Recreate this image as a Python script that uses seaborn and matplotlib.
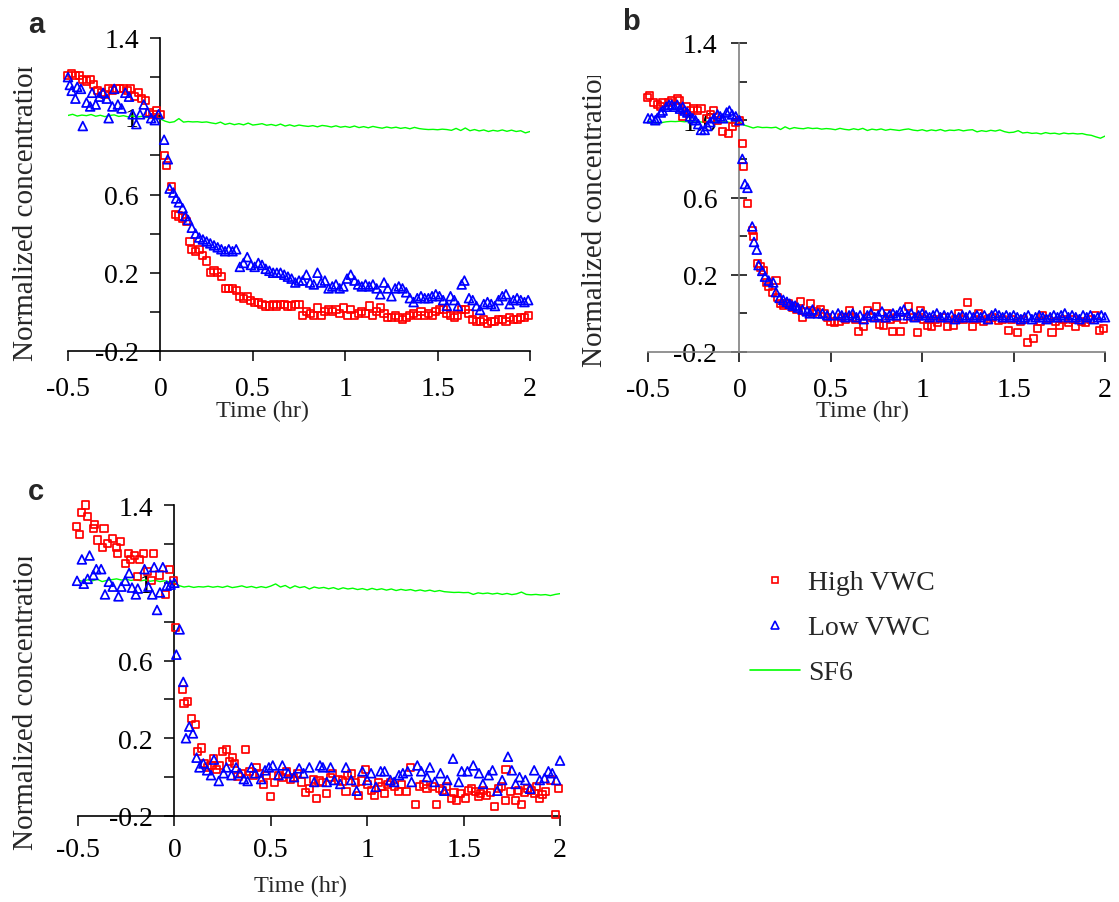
import matplotlib
matplotlib.use("Agg")
import matplotlib.pyplot as plt
import seaborn as sns
from matplotlib.lines import Line2D
from matplotlib.transforms import Bbox, TransformedBbox

# ---------------------------------------------------------------- data
X_TICKS = [-0.5, 0, 0.5, 1, 1.5, 2]
X_TICK_LABELS = ["-0.5", "0", "0.5", "1", "1.5", "2"]
Y_MAJOR = [-0.2, 0.2, 0.6, 1.0, 1.4]
Y_MINOR = [0.0, 0.4, 0.8, 1.2]
Y_LABELS_A = ["-0.2", "0.2", "0.6", "1", "1.4"]
Y_LABELS_B = ["-0.2", "0.2", "0.6", "1.0", "1.4"]
Y_LABELS_C = ["-0.2", "0.2", "0.6", "1", "1.4"]
SERIES = ["High VWC", "Low VWC", "SF6"]
PANEL_LETTERS = ["a", "b", "c"]
X_LABEL = "Time (hr)"
Y_LABEL = "Normalized concentration"

# SF6 sampling times (shared by the three panels)
sf6_t = [-0.500, -0.475, -0.450, -0.425, -0.400, -0.375, -0.350, -0.325, -0.300, -0.275,
         -0.250, -0.225, -0.200, -0.175, -0.150, -0.125, -0.100, -0.075, -0.050, -0.025,
         0.000, 0.025, 0.050, 0.075, 0.100, 0.125, 0.150, 0.175, 0.200, 0.225,
         0.250, 0.275, 0.300, 0.325, 0.350, 0.375, 0.400, 0.425, 0.450, 0.475,
         0.500, 0.525, 0.550, 0.575, 0.600, 0.625, 0.650, 0.675, 0.700, 0.725,
         0.750, 0.775, 0.800, 0.825, 0.850, 0.875, 0.900, 0.925, 0.950, 0.975,
         1.000, 1.025, 1.050, 1.075, 1.100, 1.125, 1.150, 1.175, 1.200, 1.225,
         1.250, 1.275, 1.300, 1.325, 1.350, 1.375, 1.400, 1.425, 1.450, 1.475,
         1.500, 1.525, 1.550, 1.575, 1.600, 1.625, 1.650, 1.675, 1.700, 1.725,
         1.750, 1.775, 1.800, 1.825, 1.850, 1.875, 1.900, 1.925, 1.950, 1.975, 2.000]

# ---- panel a
a_high_t = [-0.50, -0.48, -0.46, -0.44, -0.42, -0.40, -0.38, -0.36, -0.34, -0.32, -0.30, -0.28,
            -0.26, -0.24, -0.22, -0.20, -0.18, -0.16, -0.14, -0.12, -0.10, -0.08, -0.06, -0.04,
            -0.02, 0.00,
            0.02, 0.035, 0.06, 0.08, 0.10, 0.12, 0.14, 0.16, 0.17, 0.19, 0.21, 0.23, 0.25, 0.27,
            0.29, 0.31, 0.33, 0.35, 0.37, 0.39, 0.41, 0.43, 0.45, 0.47, 0.49, 0.51, 0.53, 0.55,
            0.57, 0.59, 0.61, 0.63, 0.65, 0.67, 0.69, 0.71, 0.73, 0.75, 0.77, 0.79, 0.81, 0.83,
            0.85, 0.87, 0.89, 0.91, 0.93, 0.95, 0.97, 0.99, 1.01, 1.03, 1.05, 1.07, 1.09, 1.11,
            1.13, 1.15, 1.17, 1.19, 1.21, 1.23, 1.25, 1.27, 1.29, 1.31, 1.33, 1.35, 1.37, 1.39,
            1.41, 1.43, 1.45, 1.47, 1.49, 1.51, 1.53, 1.55, 1.57, 1.59, 1.61, 1.63, 1.65, 1.67,
            1.69, 1.71, 1.73, 1.75, 1.77, 1.79, 1.81, 1.83, 1.85, 1.87, 1.89, 1.91, 1.93, 1.95,
            1.97, 1.99]
a_high_v = [1.21, 1.22, 1.21, 1.21, 1.19, 1.18, 1.19, 1.16, 1.13, 1.12, 1.11, 1.14,
            1.13, 1.14, 1.14, 1.14, 1.13, 1.14, 1.10, 1.12, 1.09, 1.08, 1.02, 1.01,
            1.03, 1.01,
            0.80, 0.75, 0.64, 0.50, 0.49, 0.48, 0.46, 0.36, 0.32, 0.31, 0.32, 0.29, 0.26, 0.20,
            0.21, 0.20, 0.18, 0.12, 0.12, 0.12, 0.11, 0.08, 0.07, 0.08, 0.06, 0.05, 0.05, 0.04,
            0.03, 0.03, 0.04, 0.03, 0.04, 0.04, 0.03, 0.03, 0.04, 0.04, -0.02, 0.00, -0.01, -0.02,
            0.02, -0.02, 0.00, 0.01, 0.00, 0.01, -0.01, 0.02, -0.02, 0.01, -0.02, -0.01, 0.00, -0.01,
            0.03, -0.02, 0.00, 0.02, -0.01, -0.03, -0.03, -0.02, -0.03, -0.04, -0.03, -0.02, -0.01, -0.02,
            0.00, -0.02, -0.01, -0.02, 0.00, 0.01, 0.01, -0.01, -0.02, -0.03, -0.02, 0.01, 0.01, -0.01,
            -0.04, -0.05, -0.05, -0.04, -0.06, -0.05, -0.05, -0.04, -0.04, -0.05, -0.03, -0.04, -0.04, -0.03,
            -0.03, -0.02]
a_low_t = [-0.50, -0.49, -0.48, -0.46, -0.45, -0.43, -0.42, -0.40, -0.38, -0.37, -0.35, -0.33,
           -0.31, -0.29, -0.28, -0.26, -0.25, -0.23, -0.21, -0.19, -0.17, -0.15, -0.13, -0.11,
           -0.09, -0.07, -0.05, -0.03, -0.01,
           0.02, 0.04, 0.05, 0.07, 0.085, 0.10, 0.12, 0.135, 0.15, 0.17, 0.19, 0.21, 0.23, 0.25,
           0.27, 0.29, 0.31, 0.33, 0.35, 0.37, 0.39, 0.41, 0.43, 0.45, 0.47, 0.49, 0.51, 0.53,
           0.55, 0.57, 0.59, 0.61, 0.63, 0.65, 0.67, 0.69, 0.71, 0.73, 0.75, 0.77, 0.79, 0.81,
           0.83, 0.85, 0.87, 0.89, 0.91, 0.93, 0.95, 0.97, 0.99, 1.01, 1.03, 1.05, 1.07, 1.09,
           1.11, 1.13, 1.15, 1.17, 1.19, 1.21, 1.23, 1.25, 1.27, 1.29, 1.31, 1.33, 1.35, 1.37,
           1.39, 1.41, 1.43, 1.45, 1.47, 1.49, 1.51, 1.53, 1.55, 1.57, 1.59, 1.61, 1.63, 1.645,
           1.67, 1.69, 1.71, 1.73, 1.75, 1.77, 1.79, 1.81, 1.83, 1.85, 1.87, 1.89, 1.91, 1.93,
           1.95, 1.97, 1.99]
a_low_v = [1.20, 1.16, 1.13, 1.09, 1.15, 1.14, 0.95, 1.07, 1.05, 1.12, 1.06, 1.10,
           1.12, 1.09, 0.99, 1.05, 1.14, 1.06, 1.04, 1.12, 1.10, 1.01, 0.96, 1.01,
           1.06, 1.02, 0.99, 0.98, 1.01,
           0.88, 0.78, 0.63, 0.61, 0.58, 0.56, 0.53, 0.49, 0.47, 0.43, 0.40, 0.38, 0.37, 0.36,
           0.35, 0.34, 0.33, 0.32, 0.31, 0.32, 0.31, 0.32, 0.23, 0.25, 0.28, 0.24, 0.23, 0.25,
           0.24, 0.22, 0.21, 0.20, 0.20, 0.20, 0.19, 0.18, 0.17, 0.15, 0.16, 0.16, 0.19, 0.15,
           0.14, 0.20, 0.15, 0.16, 0.12, 0.13, 0.14, 0.12, 0.13, 0.17, 0.19, 0.16, 0.14, 0.13,
           0.14, 0.13, 0.14, 0.12, 0.09, 0.15, 0.12, 0.08, 0.12, 0.13, 0.12, 0.10, 0.07, 0.05,
           0.07, 0.08, 0.07, 0.07, 0.08, 0.09, 0.08, 0.06, 0.03, 0.08, 0.06, 0.03, 0.14, 0.16,
           0.07, 0.06, 0.03, 0.01, 0.04, 0.05, 0.04, 0.03, 0.06, 0.08, 0.09, 0.04, 0.06, 0.07,
           0.06, 0.05, 0.06]
a_sf6_v = [1.004, 1.010, 1.001, 1.006, 1.003, 1.009, 1.000, 1.005, 0.998, 1.004,
           1.007, 0.999, 1.003, 0.997, 1.002, 0.996, 1.000, 0.994, 0.997, 0.990,
           0.986, 0.975, 0.968, 0.972, 0.988, 0.970, 0.973, 0.971, 0.972, 0.969,
           0.971, 0.966, 0.962, 0.970, 0.958, 0.964, 0.957, 0.962, 0.956, 0.965,
           0.955, 0.958, 0.962, 0.954, 0.958, 0.952, 0.960, 0.950, 0.956, 0.949,
           0.955, 0.951, 0.948, 0.952, 0.946, 0.953, 0.950, 0.945, 0.951, 0.944,
           0.948, 0.943, 0.950, 0.942, 0.947, 0.941, 0.948, 0.943, 0.939, 0.945,
           0.940, 0.944, 0.938, 0.942, 0.936, 0.943, 0.937, 0.934, 0.932, 0.933,
           0.931, 0.934, 0.932, 0.928, 0.938, 0.927, 0.940, 0.926, 0.932, 0.925,
           0.930, 0.922, 0.928, 0.924, 0.930, 0.923, 0.929, 0.922, 0.926, 0.915, 0.922]

# ---- panel b
b_high_t = [-0.505, -0.49, -0.47, -0.45, -0.43, -0.42, -0.39, -0.37, -0.34, -0.33, -0.31, -0.29,
            -0.27, -0.25, -0.23, -0.21, -0.18, -0.16, -0.14, -0.12, -0.09, -0.06, -0.04, -0.02, 0.00,
            0.016, 0.02, 0.044, 0.07, 0.077, 0.10, 0.115, 0.13, 0.15, 0.16, 0.18, 0.20, 0.21, 0.225,
            0.24, 0.255, 0.27, 0.29, 0.31, 0.335, 0.345, 0.36, 0.39, 0.40, 0.42, 0.445, 0.466, 0.48,
            0.50, 0.52, 0.545, 0.56, 0.58, 0.60, 0.62, 0.635, 0.654, 0.68, 0.70, 0.72, 0.75, 0.767,
            0.786, 0.81, 0.825, 0.84, 0.86, 0.88, 0.90, 0.927, 0.95, 0.974, 0.99, 1.01, 1.03, 1.05,
            1.07, 1.086, 1.11, 1.14, 1.17, 1.185, 1.20, 1.225, 1.25, 1.275, 1.29, 1.31, 1.335, 1.36,
            1.385, 1.415, 1.44, 1.47, 1.49, 1.52, 1.54, 1.556, 1.575, 1.61, 1.63, 1.645, 1.66, 1.685,
            1.71, 1.73, 1.75, 1.775, 1.80, 1.82, 1.84, 1.87, 1.895, 1.92, 1.95, 1.97, 1.99]
b_high_v = [1.12, 1.13, 1.09, 1.08, 1.07, 1.09, 1.09, 1.10, 1.11, 1.10, 1.02, 1.07,
            1.05, 1.06, 1.05, 1.06, 1.01, 1.03, 1.05, 1.00, 0.94, 0.93, 0.97, 0.99, 1.00,
            0.88, 0.76, 0.57, 0.43, 0.40, 0.26, 0.24, 0.22, 0.16, 0.14, 0.11, 0.17, 0.08, 0.05,
            0.04, 0.05, 0.05, 0.03, 0.02, 0.06, -0.02, 0.01, 0.05, 0.00, 0.01, 0.02, 0.00, -0.02,
            -0.04, -0.045, -0.04, -0.02, -0.03, 0.015, -0.02, -0.03, -0.094, -0.07, 0.015, -0.02, 0.035, -0.055,
            -0.065, 0.00, -0.03, -0.094, -0.02, -0.094, -0.03, 0.035, -0.02, -0.10, 0.015, -0.03, -0.065, -0.07,
            -0.03, -0.045, -0.02, -0.07, -0.06, -0.03, 0.00, -0.03, 0.055, -0.07, -0.03, 0.00, -0.04, -0.03,
            -0.02, -0.035, -0.03, -0.09, -0.03, -0.10, -0.04, -0.03, -0.15, -0.13, -0.08, -0.04, -0.01, -0.03,
            -0.10, -0.04, -0.065, -0.03, -0.045, -0.03, -0.07, -0.04, -0.045, -0.03, -0.01, -0.09, -0.08]
b_low_t = [-0.50, -0.48, -0.46, -0.45, -0.43, -0.42, -0.40, -0.385, -0.37, -0.355, -0.34, -0.325,
           -0.31, -0.30, -0.285, -0.27, -0.255, -0.24, -0.225, -0.21, -0.19, -0.175, -0.16, -0.14,
           -0.12, -0.105, -0.09, -0.07, -0.055, -0.04, -0.02, 0.00,
           0.016, 0.03, 0.044, 0.07, 0.08, 0.095, 0.105, 0.125, 0.14, 0.16, 0.185, 0.20, 0.22, 0.24,
           0.26, 0.275, 0.29, 0.305, 0.32, 0.345, 0.37, 0.385, 0.40, 0.43, 0.455, 0.48, 0.51, 0.54,
           0.56, 0.58, 0.60, 0.62, 0.64, 0.66, 0.68, 0.70, 0.72, 0.74, 0.76, 0.78, 0.80, 0.82,
           0.84, 0.86, 0.88, 0.90, 0.92, 0.94, 0.96, 0.98, 1.00, 1.02, 1.04, 1.06, 1.08, 1.10,
           1.12, 1.14, 1.16, 1.18, 1.20, 1.22, 1.24, 1.26, 1.28, 1.30, 1.32, 1.34, 1.36, 1.38,
           1.40, 1.42, 1.44, 1.46, 1.48, 1.50, 1.52, 1.54, 1.56, 1.58, 1.60, 1.62, 1.64, 1.66,
           1.68, 1.70, 1.72, 1.74, 1.76, 1.78, 1.80, 1.82, 1.84, 1.86, 1.88, 1.90, 1.92, 1.94,
           1.96, 1.98, 2.00]
b_low_v = [1.01, 1.01, 1.00, 1.01, 1.04, 1.05, 1.07, 1.08, 1.08, 1.07, 1.08, 1.06,
           1.07, 1.05, 1.04, 1.02, 1.01, 1.00, 0.98, 0.95, 0.95, 0.97, 0.99, 1.01,
           1.03, 1.02, 1.01, 1.04, 1.05, 1.03, 1.02, 1.00,
           0.80, 0.67, 0.65, 0.45, 0.37, 0.33, 0.25, 0.22, 0.19, 0.17, 0.16, 0.11, 0.08, 0.07,
           0.06, 0.05, 0.04, 0.04, 0.03, 0.02, 0.01, 0.00, 0.02, 0.00, 0.00, -0.01, -0.01, 0.00,
           -0.01, -0.02, -0.01, 0.00, -0.02, -0.01, -0.03, -0.01, 0.00, -0.02, -0.01, 0.01, -0.02, -0.01,
           0.00, -0.01, 0.01, 0.02, -0.01, 0.00, -0.02, -0.01, 0.00, -0.01, -0.02, -0.01, 0.00, -0.02,
           -0.01, -0.02, -0.01, -0.03, -0.02, -0.01, -0.02, -0.01, -0.02, -0.01, -0.02, -0.01, -0.03, -0.01,
           0.00, -0.01, -0.02, -0.01, -0.02, -0.01, -0.02, -0.03, -0.02, -0.01, -0.03, -0.02, -0.01, -0.02,
           -0.03, -0.02, -0.01, -0.02, -0.01, 0.00, -0.02, -0.01, -0.02, -0.03, -0.01, -0.02, -0.01, -0.03,
           -0.02, -0.01, -0.02]
b_sf6_v = [0.995, 0.990, 0.983, 0.988, 0.992, 0.994, 0.993, 0.995, 0.992, 0.994,
           0.991, 0.993, 0.990, 0.994, 0.989, 0.992, 0.990, 0.993, 0.988, 0.991,
           0.992, 0.975, 0.968, 0.960, 0.966, 0.962, 0.963, 0.961, 0.964, 0.952,
           0.966, 0.955, 0.962, 0.958, 0.956, 0.961, 0.957, 0.959, 0.954, 0.957,
           0.955, 0.951, 0.958, 0.953, 0.950, 0.956, 0.951, 0.958, 0.947, 0.954,
           0.950, 0.955, 0.948, 0.953, 0.950, 0.947, 0.952, 0.955, 0.949, 0.946,
           0.951, 0.944, 0.950, 0.946, 0.952, 0.944, 0.949, 0.947, 0.951, 0.945,
           0.949, 0.951, 0.940, 0.946, 0.942, 0.948, 0.944, 0.950, 0.941, 0.936,
           0.938, 0.946, 0.934, 0.937, 0.932, 0.934, 0.929, 0.936, 0.931, 0.933,
           0.928, 0.934, 0.930, 0.932, 0.929, 0.931, 0.925, 0.922, 0.914, 0.907, 0.918]

# ---- panel c
c_high_t = [-0.51, -0.49, -0.48, -0.46, -0.45, -0.42, -0.415, -0.40, -0.375, -0.365, -0.345, -0.32,
            -0.30, -0.295, -0.28, -0.255, -0.24, -0.23, -0.205, -0.19, -0.18, -0.16, -0.14, -0.12,
            -0.11, -0.075, -0.044, -0.025, -0.006,
            0.004, 0.04, 0.05, 0.07, 0.09, 0.11, 0.12, 0.14, 0.155, 0.17, 0.19, 0.205, 0.22, 0.235,
            0.25, 0.27, 0.285, 0.30, 0.31, 0.33, 0.35, 0.37, 0.39, 0.41, 0.425, 0.44, 0.46, 0.48,
            0.50, 0.52, 0.54, 0.56, 0.58, 0.60, 0.62, 0.64, 0.66, 0.68, 0.70, 0.72, 0.735, 0.75,
            0.77, 0.79, 0.81, 0.82, 0.85, 0.87, 0.89, 0.90, 0.92, 0.94, 0.955, 0.97, 0.99, 1.00,
            1.02, 1.04, 1.06, 1.075, 1.09, 1.105, 1.12, 1.14, 1.16, 1.18, 1.205, 1.225, 1.25, 1.27,
            1.29, 1.31, 1.34, 1.36, 1.375, 1.39, 1.41, 1.435, 1.45, 1.465, 1.485, 1.51, 1.525, 1.54,
            1.56, 1.575, 1.59, 1.605, 1.62, 1.64, 1.66, 1.68, 1.695, 1.715, 1.72, 1.745, 1.77, 1.785,
            1.80, 1.815, 1.83, 1.85, 1.866, 1.88, 1.895, 1.91, 1.925, 1.95, 1.975, 1.99]
c_high_v = [1.29, 1.25, 1.36, 1.40, 1.34, 1.28, 1.30, 1.22, 1.18, 1.28, 1.20, 1.23,
            1.18, 1.15, 1.21, 1.10, 1.15, 1.12, 1.14, 1.03, 1.12, 1.15, 1.06, 1.01,
            1.15, 1.04, 0.94, 1.07, 1.01,
            0.77, 0.45, 0.38, 0.39, 0.30, 0.27, 0.13, 0.15, 0.07, 0.05, 0.06, 0.095, 0.04, 0.06,
            0.13, 0.14, 0.08, 0.10, 0.07, 0.004, 0.02, 0.14, 0.03, 0.01, 0.05, 0.02, -0.04, 0.01,
            -0.10, -0.03, 0.01, 0.00, 0.03, -0.01, 0.00, 0.02, -0.025, -0.08, -0.06, -0.01, -0.11, -0.02,
            -0.03, -0.085, 0.00, 0.02, -0.015, -0.02, -0.075, 0.01, 0.02, -0.03, -0.095, -0.02, 0.04, -0.04,
            -0.07, -0.095, -0.03, -0.05, -0.085, -0.04, -0.03, -0.05, -0.075, -0.04, -0.075, 0.05, -0.14, -0.05,
            -0.04, -0.06, -0.05, -0.14, -0.06, -0.07, -0.05, -0.11, -0.08, -0.12, -0.085, -0.11, -0.07, -0.06,
            -0.075, -0.10, -0.085, -0.07, -0.095, -0.08, -0.15, -0.06, -0.05, -0.12, 0.04, -0.075, -0.12, -0.07,
            -0.14, -0.08, -0.06, -0.07, -0.085, -0.05, -0.11, -0.09, -0.075, -0.015, -0.19, -0.06]
c_low_t = [-0.505, -0.48, -0.47, -0.45, -0.44, -0.42, -0.405, -0.38, -0.36, -0.34, -0.32, -0.29,
           -0.275, -0.255, -0.235, -0.22, -0.20, -0.19, -0.155, -0.135, -0.115, -0.105, -0.09, -0.075,
           -0.06, -0.04, -0.02, 0.00,
           0.01, 0.027, 0.046, 0.06, 0.077, 0.096, 0.115, 0.13, 0.15, 0.17, 0.19, 0.205, 0.23, 0.255,
           0.27, 0.296, 0.32, 0.34, 0.36, 0.38, 0.40, 0.42, 0.45, 0.47, 0.49, 0.51, 0.54, 0.56,
           0.59, 0.62, 0.647, 0.67, 0.70, 0.725, 0.755, 0.77, 0.79, 0.81, 0.83, 0.86, 0.89, 0.917,
           0.945, 0.975, 1.00, 1.02, 1.045, 1.07, 1.09, 1.12, 1.14, 1.165, 1.185, 1.21, 1.23, 1.26,
           1.28, 1.31, 1.325, 1.35, 1.38, 1.40, 1.415, 1.445, 1.475, 1.49, 1.52, 1.55, 1.58, 1.60,
           1.63, 1.65, 1.675, 1.70, 1.73, 1.75, 1.77, 1.79, 1.82, 1.845, 1.866, 1.895, 1.92, 1.94,
           1.96, 1.98, 2.00]
c_low_v = [1.01, 1.12, 0.995, 1.02, 1.14, 1.04, 1.07, 1.07, 0.94, 1.005, 0.98, 0.93,
           0.98, 1.01, 1.05, 0.975, 0.94, 0.97, 1.07, 0.98, 0.94, 1.08, 0.86, 0.95,
           1.08, 0.985, 0.99, 1.00,
           0.63, 0.76, 0.49, 0.20, 0.26, 0.225, 0.10, 0.05, 0.07, 0.035, 0.01, 0.09, -0.02, 0.02,
           0.05, 0.01, 0.05, 0.02, -0.01, -0.02, 0.05, 0.02, -0.01, 0.035, 0.05, 0.06, 0.01, 0.06,
           0.02, 0.00, 0.045, 0.02, 0.05, -0.025, 0.06, 0.05, -0.025, 0.05, -0.015, -0.035, 0.05, -0.015,
           -0.07, 0.03, -0.015, 0.02, -0.05, 0.03, 0.03, -0.015, -0.025, 0.01, 0.02, 0.03, -0.025, 0.06,
           0.03, 0.00, 0.05, -0.025, 0.02, -0.07, -0.015, 0.095, -0.025, 0.03, 0.03, 0.06, 0.02, -0.035,
           0.01, 0.035, -0.07, -0.015, 0.105, 0.035, -0.035, 0.00, -0.015, -0.06, 0.035, -0.015, -0.005, 0.03,
           0.02, -0.015, 0.085]
c_sf6_v = [1.012, 1.008, 1.015, 1.010, 1.018, 1.006, 1.012, 1.016, 1.020, 1.014,
           1.018, 1.012, 1.016, 1.010, 1.014, 1.008, 1.012, 1.006, 1.010, 1.004,
           0.998, 0.985, 0.978, 0.982, 0.976, 0.980, 0.978, 0.982, 0.977, 0.981,
           0.976, 0.983, 0.975, 0.979, 0.984, 0.976, 0.981, 0.974, 0.980, 0.975,
           0.983, 0.994, 0.978, 0.986, 0.972, 0.984, 0.975, 0.980, 0.968, 0.978,
           0.972, 0.976, 0.969, 0.975, 0.966, 0.974, 0.968, 0.972, 0.965, 0.970,
           0.963, 0.971, 0.964, 0.969, 0.962, 0.968, 0.960, 0.966, 0.961, 0.965,
           0.958, 0.963, 0.957, 0.962, 0.955, 0.960, 0.954, 0.952, 0.950, 0.951,
           0.949, 0.950, 0.940, 0.948, 0.944, 0.947, 0.942, 0.946, 0.940, 0.945,
           0.939, 0.943, 0.952, 0.940, 0.938, 0.940, 0.937, 0.939, 0.934, 0.940, 0.944]

# ---------------------------------------------------------------- layout (pixels of the 1119x903 canvas)
W, H = 1119, 903
LAYOUT = {
    "a": dict(x0=68, x1=530, yt=39, yb=352, ylab=(33, 361, 68), xlab=(263, 411), letter=(28, 33),
              spine="black", ylabels=Y_LABELS_A, ydir="out", xpad=11),
    "b": dict(x0=648, x1=1105, yt=44, yb=353, ylab=(602, 367, 77), xlab=(862, 411), letter=(622, 30),
              spine="#808080", ylabels=Y_LABELS_B, ydir="inout", xpad=11),
    "c": dict(x0=78, x1=560, yt=506, yb=817, ylab=(33, 850, 558), xlab=(300, 886), letter=(28, 500),
              spine="black", ylabels=Y_LABELS_C, ydir="out", xpad=8),
}
DATA = {
    "a": (a_high_t, a_high_v, a_low_t, a_low_v, sf6_t, a_sf6_v),
    "b": (b_high_t, b_high_v, b_low_t, b_low_v, sf6_t, b_sf6_v),
    "c": (c_high_t, c_high_v, c_low_t, c_low_v, sf6_t, c_sf6_v),
}
RED, BLUE, GREEN = "#ff0000", "#0000ff", "#00ff00"

sns.set_theme(style="ticks")
plt.rcParams["font.family"] = ["Liberation Serif", "DejaVu Serif"]
plt.rcParams["axes.linewidth"] = 1.1

fig = plt.figure(figsize=(W / 100, H / 100), dpi=100)
fig.patch.set_facecolor("white")

for key in PANEL_LETTERS:
    L = LAYOUT[key]
    ht, hv, lt, lv, st, sv = DATA[key]
    ax = fig.add_axes([L["x0"] / W, 1 - L["yb"] / H, (L["x1"] - L["x0"]) / W, (L["yb"] - L["yt"]) / H])
    ax.set_facecolor("none")

    sns.lineplot(x=st, y=sv, ax=ax, color=GREEN, linewidth=1.0, estimator=None, sort=False, zorder=3)
    sns.scatterplot(x=ht, y=hv, ax=ax, marker="s", s=26, facecolor="none", edgecolor=RED,
                    linewidth=1.25, zorder=4, clip_on=False)
    sns.scatterplot(x=lt, y=lv, ax=ax, marker="^", s=40, facecolor="none", edgecolor=BLUE,
                    linewidth=1.25, zorder=5, clip_on=False)

    ax.set_xlim(-0.5, 2.0)
    ax.set_ylim(-0.2, 1.4)
    ax.grid(False)
    for s in ("top", "right"):
        ax.spines[s].set_visible(False)
    ax.spines["left"].set_position(("data", 0))
    for s in ("left", "bottom"):
        ax.spines[s].set_color(L["spine"])
        ax.spines[s].set_linewidth(1.2)

    ax.set_xticks(X_TICKS, labels=X_TICK_LABELS)
    ax.set_yticks(Y_MAJOR, labels=L["ylabels"])
    ax.set_yticks(Y_MINOR, minor=True)
    ax.tick_params(axis="x", which="major", direction="out", length=7, width=1.1, pad=L["xpad"],
                   labelsize=20, color="black", labelcolor="black", bottom=True)
    if L["ydir"] == "out":
        ax.tick_params(axis="y", which="both", direction="out", length=7, width=1.1, pad=8.5,
                       labelsize=20, color="black", labelcolor="black", left=True)
    else:
        ax.tick_params(axis="y", which="major", direction="inout", length=12, width=1.1, pad=10,
                       labelsize=20, color="black", labelcolor="black", left=True)
        ax.tick_params(axis="y", which="minor", direction="in", length=5.5, width=1.1, left=True,
                       color="black")

    w_ax = L["x1"] - L["x0"]
    h_ax = L["yb"] - L["yt"]
    # x label
    ax.set_xlabel(X_LABEL, fontsize=17.5)
    ax.xaxis.label.set_va("center")
    ax.xaxis.set_label_coords((L["xlab"][0] - L["x0"]) / w_ax, (L["yb"] - L["xlab"][1]) / h_ax)
    # y label (clipped at the top like the original)
    ax.set_ylabel(Y_LABEL, fontsize=21)
    lab = ax.yaxis.label
    lab.set_ha("left")
    lab.set_va("baseline")
    bx, by, clip_top = L["ylab"]
    ax.yaxis.set_label_coords((bx - L["x0"]) / w_ax, (L["yb"] - by) / h_ax)
    lab.set_clip_box(TransformedBbox(Bbox.from_extents(0, 0, 1, 1 - clip_top / H), fig.transFigure))
    lab.set_clip_on(True)

    # panel letter
    fig.text(L["letter"][0] / W, 1 - L["letter"][1] / H, key, fontsize=21, fontweight="bold",
             family=["Liberation Sans", "DejaVu Sans"], ha="left", va="baseline")

handles = [
    Line2D([], [], linestyle="none", marker="s", markersize=5, markerfacecolor="none",
           markeredgecolor=RED, markeredgewidth=1.2),
    Line2D([], [], linestyle="none", marker="^", markersize=5.5, markerfacecolor="none",
           markeredgecolor=BLUE, markeredgewidth=1.2),
    Line2D([], [], color=GREEN, linewidth=1.2),
]
fig.legend(handles, SERIES, loc="upper left", bbox_to_anchor=(750 / W, 1 - 571 / H), frameon=False,
           fontsize=20, handlelength=1.8, handletextpad=0.3, labelspacing=0.7, borderpad=0,
           borderaxespad=0)

fig.savefig("out.png", dpi=100, facecolor="white")
